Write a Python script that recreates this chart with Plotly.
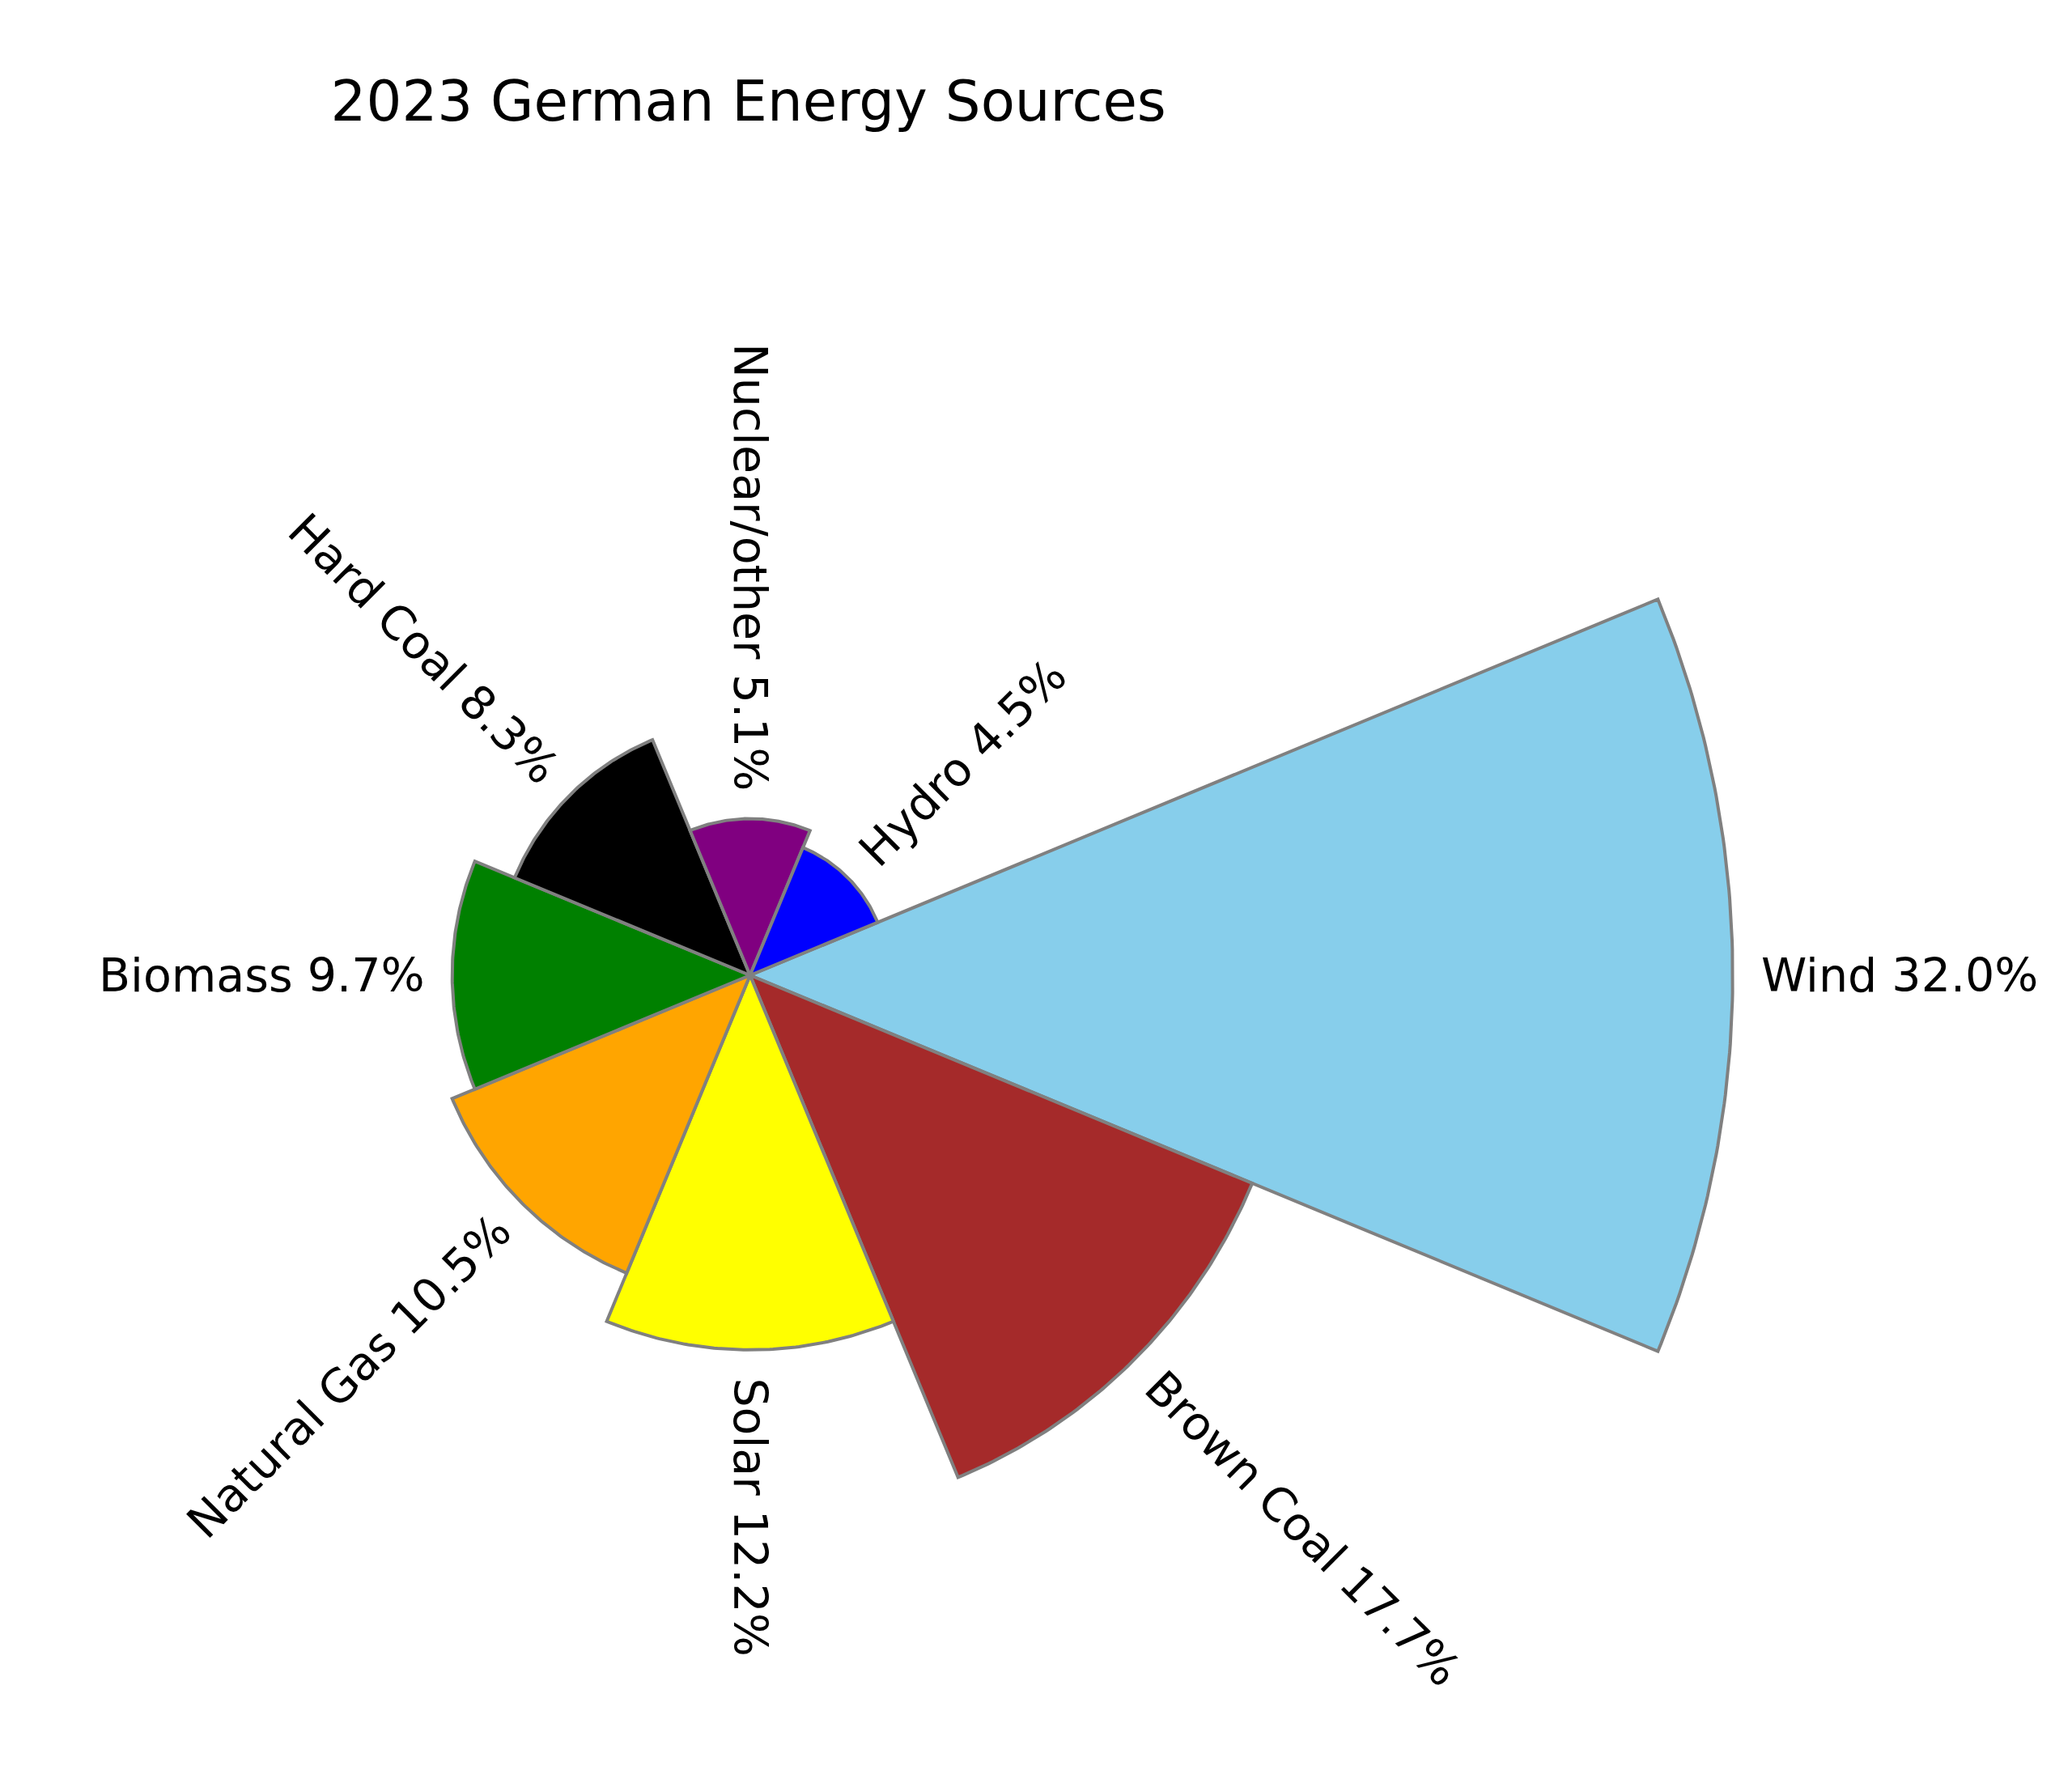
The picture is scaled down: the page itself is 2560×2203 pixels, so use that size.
import math
import plotly.graph_objects as go

# 2023 German electricity mix, share in percent
sources = ["Wind", "Brown Coal", "Solar", "Natural Gas", "Biomass", "Hard Coal", "Nuclear/other", "Hydro"]
shares = [32.0, 17.7, 12.2, 10.5, 9.7, 8.3, 5.1, 4.5]
colors = ["skyblue", "brown", "yellow", "orange", "green", "black", "purple", "blue"]
angles = [0, -45, -90, -135, -180, -225, -270, -315]  # degrees, counter-clockwise from east
wedge = 45

# the page body has an 8px margin, so the figure is drawn 8px in from the corner
W, H = 2560 - 16, 2203 - 16
cx, cy = 926.7 - 8, 1205.0 - 8   # centre of the rose in figure pixels (from top left)
ppu = 37.94                      # pixels per percent
label_size = 57
gap = 34

# rough DejaVu Sans advance widths (em) to centre the rotated labels
char_w = {" ": .318, ".": .318, "%": .950, "/": .337, "W": .989, "B": .686, "S": .635,
          "N": .748, "G": .776, "H": .752, "C": .698, "a": .613, "b": .635, "c": .550,
          "d": .635, "e": .615, "h": .634, "i": .278, "l": .278, "m": .974, "n": .634,
          "o": .612, "r": .411, "s": .521, "t": .392, "u": .634, "w": .818, "y": .592}


def text_len(s):
    return sum(char_w.get(c, .636) for c in s) * label_size


fig = go.Figure()
# each wedge is a filled outline in percent units on equal-scale x/y axes
# (plotly's polar subplot clips everything to its circle, and the wind wedge
# has to reach past the edge of the figure's polar area)
for name, val, ang, col in zip(sources, shares, angles, colors):
    arc = [math.radians(ang - wedge / 2 + k * wedge / 90) for k in range(91)]
    xs = [0] + [val * math.cos(a) for a in arc] + [0]
    ys = [0] + [val * math.sin(a) for a in arc] + [0]
    fig.add_trace(go.Scatter(
        x=xs, y=ys, mode="lines", fill="toself", fillcolor=col,
        line=dict(color="gray", width=4), name=name, hoverinfo="name",
    ))

annotations = []
for name, val, ang in zip(sources, shares, angles):
    label = f"{name} {val:.1f}%"
    t = math.radians(ang)
    rl = val + (gap + text_len(label) / 2) / ppu
    cw = (-ang) % 360  # clockwise angle on screen
    tangle = cw if (cw <= 90 or cw > 270) else cw - 180
    if tangle > 180:
        tangle -= 360
    annotations.append(dict(x=rl * math.cos(t), y=rl * math.sin(t), xref="x", yref="y",
                            text=label, showarrow=False, textangle=tangle,
                            xanchor="center", yanchor="middle",
                            font=dict(family="DejaVu Sans", size=label_size, color="black")))

fig.update_layout(
    width=W, height=H,
    margin=dict(l=0, r=0, t=0, b=0),
    paper_bgcolor="white",
    plot_bgcolor="white",
    showlegend=False,
    title=dict(text="2023 German Energy Sources", x=(cx - 2) / W, xanchor="center",
               y=1 - 117 / H, yanchor="middle",
               font=dict(family="DejaVu Sans", size=69, color="black")),
    xaxis=dict(visible=False, range=[-cx / ppu, (W - cx) / ppu]),
    yaxis=dict(visible=False, range=[-(H - cy) / ppu, cy / ppu]),
    annotations=annotations,
)

fig.write_html("out.html")
